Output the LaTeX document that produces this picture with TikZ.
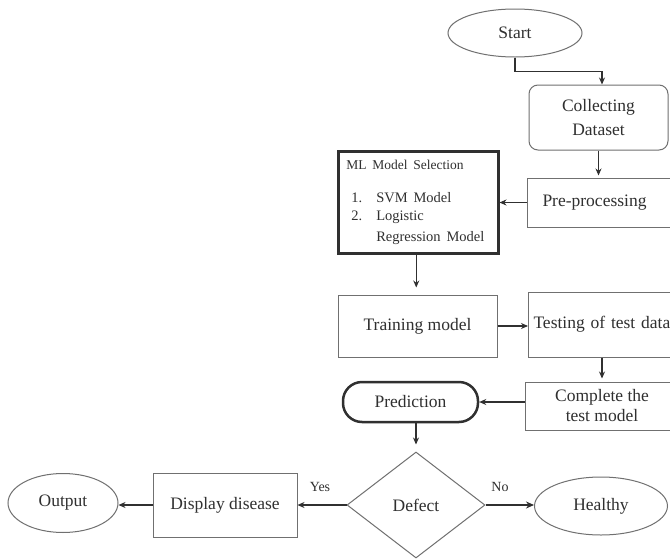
\documentclass[tikz,border=0pt]{standalone}
\usepackage{fontspec}
\setmainfont{Liberation Serif}
\usetikzlibrary{arrows.meta,shapes.geometric,calc}
\definecolor{ink}{HTML}{303030}
\definecolor{edge}{HTML}{707070}
\begin{document}
\begin{tikzpicture}[x=1pt,y=-1pt,
  every node/.style={text=ink, font=\fontsize{17.5}{21}\selectfont},
  box/.style={draw=edge, line width=1pt, rectangle, inner sep=0pt},
  oval/.style={draw=edge, line width=1pt, ellipse, inner sep=0pt},
  arr/.style={draw=ink, line width=1.1pt, -{Stealth[length=7pt,width=6pt]}},
  small/.style={font=\fontsize{14}{16}\selectfont}]
\useasboundingbox (0,0) rectangle (670,560);
\fill[white] (0,0) rectangle (670,560);
\clip (0,0) rectangle (670,560);

\node[oval, minimum width=134, minimum height=48] (start) at (515,33) {Start};
\node[box, rounded corners=9, minimum width=139, minimum height=65, align=center, font=\fontsize{17.5}{24}\selectfont] (coll) at (598.5,117.5) {Collecting\\Dataset};
\node[box, anchor=west, minimum height=49, inner xsep=15, text width=150, align=left] (pre) at (527,202.5) {Pre-processing};
\node[box, draw=ink, line width=2.5pt, anchor=north west, text width=144, align=left, inner xsep=8, inner ysep=6, minimum height=102] (ml) at (337,150)
 {{\fontsize{13.5}{15}\selectfont ML Model Selection}\\[16pt]
  \fontsize{14.5}{17.5}\selectfont\hspace*{5pt}\makebox[25pt][l]{1.}SVM Model\\
  \hspace*{5pt}\makebox[25pt][l]{2.}Logistic\\
  \hspace*{30pt}Regression Model};
\node[box, minimum width=159, minimum height=62] (train) at (417.5,326) {Training model};
\node[box, anchor=west, minimum height=65, inner xsep=5, text width=150, align=left] (test) at (528,324.5) {Testing of test data};
\node[box, minimum width=154, minimum height=48, align=center, font=\fontsize{17.5}{20}\selectfont] (comp) at (602,406) {Complete the\\test model};
\node[box, draw=ink, line width=2.5pt, rounded corners=19, minimum width=135, minimum height=40] (pred) at (410.5,402) {Prediction};
\node[diamond, draw=edge, line width=1pt, minimum width=138, minimum height=106, inner sep=0pt] (dec) at (416,505) {Defect};
\node[oval, minimum width=133, minimum height=58] (heal) at (601,506) {Healthy};
\node[box, minimum width=144, minimum height=64] (disp) at (225,505) {Display disease};
\node[oval, minimum width=110, minimum height=59] (out) at (63,503) {Output};
\node[small] (yes) at (320,487) {Yes};
\node[small] (no) at (500,487) {No};

\draw[arr] (start.south) -- ++(0,14) -| ([xshift=3.5]coll.north);
\draw[arr, shorten >=2] (coll.south) -- (coll.south |- pre.north);
\draw[arr] (pre.west) -- (ml.east |- pre.west);
\draw[arr, shorten >=7] ([xshift=-2]ml.south) -- ([xshift=-2]ml.south |- train.north);
\draw[arr] (train.east) -- (train.east -| test.west);
\draw[arr, shorten >=3] (comp.north |- test.south) -- (comp.north);
\draw[arr] (comp.west |- pred.east) -- (pred.east);
\draw[arr, shorten >=7] (dec.north |- pred.south) -- (dec.north);
\draw[arr] (dec.west) -- (disp.east);
\draw[arr, line width=2.5pt, -{Stealth[length=8pt,width=7pt]}] (dec.east) -- (dec.east -| heal.west);
\draw[arr] (disp.west) -- (disp.west -| out.east);
\end{tikzpicture}
\end{document}
